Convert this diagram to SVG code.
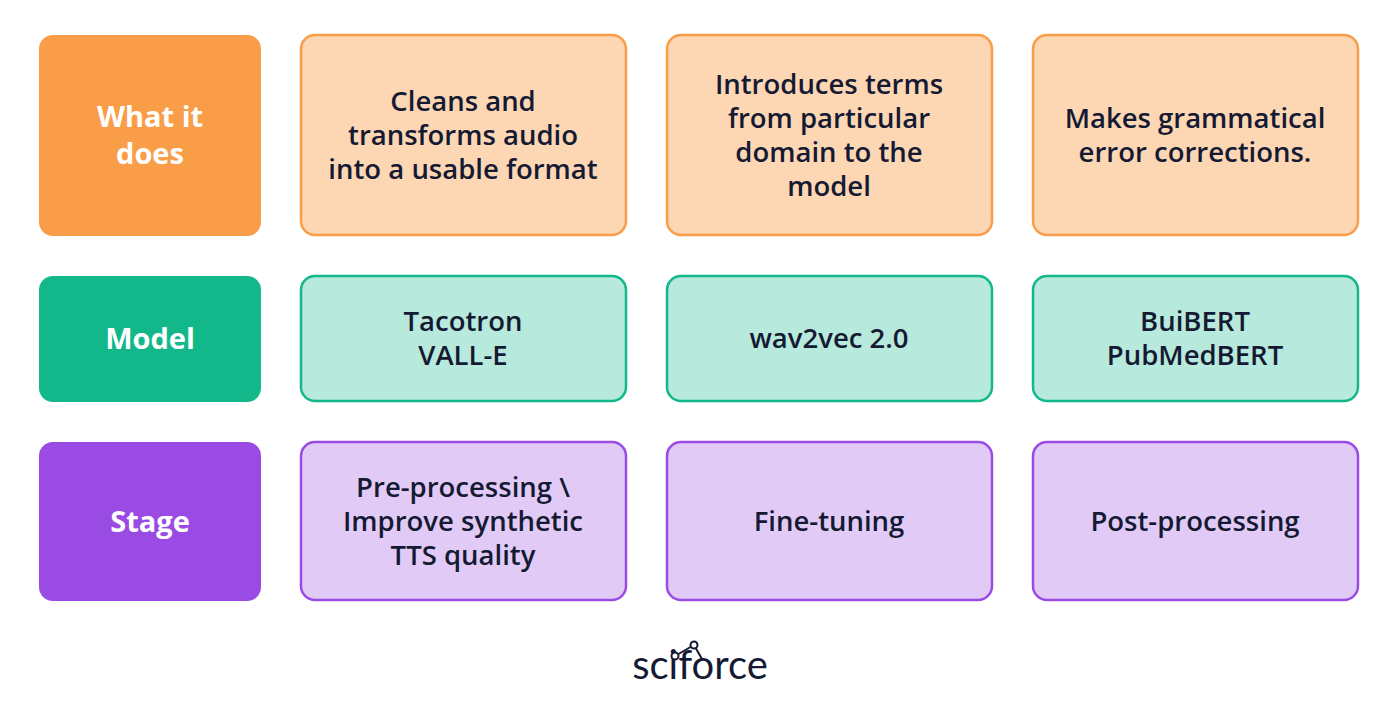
<svg xmlns="http://www.w3.org/2000/svg" width="1400" height="721" viewBox="0 0 1400 721">
<style>
.t{font-family:"Open Sans",Lato,sans-serif;font-weight:600;font-size:27.5px;fill:#151a33;text-anchor:middle}
.h{font-family:"Open Sans",Lato,sans-serif;font-weight:700;font-size:29px;fill:#fff;text-anchor:middle}
.o{fill:#fdd6b3;stroke:#f99d48;stroke-width:2.5}
.g{fill:#b7e9dc;stroke:#12b88a;stroke-width:2.5}
.p{fill:#e1cbf6;stroke:#9a4be4;stroke-width:2.5}
</style>
<rect width="1400" height="721" fill="#fff"/>
<g id="h-what"><rect x="39" y="35" width="222" height="201" rx="14" fill="#f99d48"/><text class="h" x="150" y="127">What it</text><text class="h" x="150" y="164">does</text></g>
<g id="h-model"><rect x="39" y="276" width="222" height="126" rx="14" fill="#12b88a"/><text class="h" x="150" y="349">Model</text></g>
<g id="h-stage"><rect x="39" y="442" width="222" height="159" rx="14" fill="#9a4be4"/><text class="h" x="150" y="532">Stage</text></g>
<g id="w1"><rect class="o" x="301" y="35" width="325" height="200" rx="14"/><text class="t" x="463" y="111">Cleans and</text><text class="t" x="463" y="145">transforms audio</text><text class="t" x="463" y="179">into a usable format</text></g>
<g id="w2"><rect class="o" x="667" y="35" width="325" height="200" rx="14"/><text class="t" x="829" y="94">Introduces terms</text><text class="t" x="829" y="128">from particular</text><text class="t" x="829" y="162">domain to the</text><text class="t" x="829" y="196">model</text></g>
<g id="w3"><rect class="o" x="1033" y="35" width="325" height="200" rx="14"/><text class="t" x="1195" y="128">Makes grammatical</text><text class="t" x="1195" y="162">error corrections.</text></g>
<g id="m1"><rect class="g" x="301" y="276" width="325" height="125" rx="14"/><text class="t" x="463" y="331">Tacotron</text><text class="t" x="463" y="365">VALL-E</text></g>
<g id="m2"><rect class="g" x="667" y="276" width="325" height="125" rx="14"/><text class="t" x="829" y="348">wav2vec 2.0</text></g>
<g id="m3"><rect class="g" x="1033" y="276" width="325" height="125" rx="14"/><text class="t" x="1195" y="331">BuiBERT</text><text class="t" x="1195" y="365">PubMedBERT</text></g>
<g id="s1"><rect class="p" x="301" y="442" width="325" height="158" rx="14"/><text class="t" x="463" y="497">Pre-processing \</text><text class="t" x="463" y="531">Improve synthetic</text><text class="t" x="463" y="565">TTS quality</text></g>
<g id="s2"><rect class="p" x="667" y="442" width="325" height="158" rx="14"/><text class="t" x="829" y="531">Fine-tuning</text></g>
<g id="s3"><rect class="p" x="1033" y="442" width="325" height="158" rx="14"/><text class="t" x="1195" y="531">Post-processing</text></g>
<g id="logo">
<text x="700" y="679" font-family="Lato,'Open Sans',sans-serif" font-weight="400" font-size="40" fill="#151a33" text-anchor="middle">sciforce</text>
<g fill="#fff" stroke="#151a33" stroke-width="2"><path d="M675 656 L694 645 L702 659" fill="none"/><circle cx="675" cy="656" r="3.5"/><circle cx="694" cy="645" r="3.5"/></g>
</g>
</svg>
